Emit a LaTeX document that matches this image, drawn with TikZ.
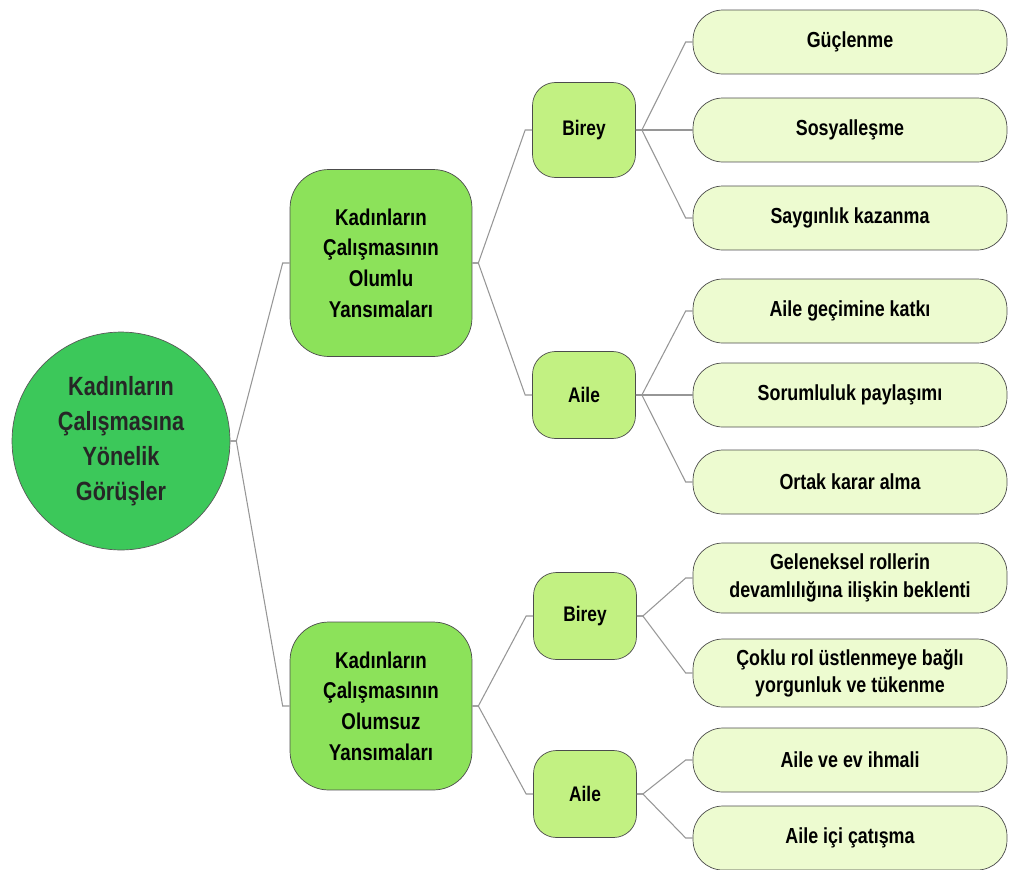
\documentclass[tikz,border=0pt]{standalone}
\usepackage{fontspec}
\setmainfont{Liberation Sans}[FakeStretch=0.82]
\usetikzlibrary{positioning,calc}

\definecolor{rootgreen}{RGB}{60,200,90}
\definecolor{midgreen}{RGB}{140,226,90}
\definecolor{subgreen}{RGB}{194,241,130}
\definecolor{leafgreen}{RGB}{237,251,208}
\definecolor{linkgray}{RGB}{150,150,150}

\tikzset{
  rootnode/.style={circle, draw=black!65, fill=rootgreen, minimum size=4.36cm, inner sep=0pt,
    align=center, text=black!85, font=\fontsize{15}{20}\selectfont\bfseries},
  midnode/.style={rectangle, rounded corners=22pt, draw=black!70, fill=midgreen,
    minimum width=3.64cm, align=center, font=\fontsize{13}{17.5}\selectfont\bfseries},
  subnode/.style={rectangle, rounded corners=13pt, draw=black!70, fill=subgreen,
    minimum width=2.06cm, minimum height=1.74cm, font=\fontsize{12}{15}\selectfont\bfseries},
  leafnode/.style={rectangle, rounded corners=17pt, draw=black!70, fill=leafgreen,
    minimum width=6.28cm, minimum height=1.28cm, align=center, font=\fontsize{12.4}{15.5}\selectfont\bfseries},
  link/.style={draw=linkgray, line width=0.6pt},
}
\newcommand{\branch}[2]{\draw[link] (#1.east) -- ++(6,0) -- ($(#2.west)+(-7,0)$) -- (#2.west);}

\begin{document}
\begin{tikzpicture}[x=0.02cm, y=-0.02cm]
    \useasboundingbox (0,0) rectangle (1020,869);

    % Root
    \node[rootnode] (root) at (121,441) {Kadınların\\Çalışmasına\\Yönelik\\Görüşler};

    % Second level
    \node[midnode, minimum height=3.74cm] (pos) at (381,263) {Kadınların\\Çalışmasının\\Olumlu\\Yansımaları};
    \node[midnode, minimum height=3.36cm] (neg) at (381,706) {Kadınların\\Çalışmasının\\Olumsuz\\Yansımaları};

    % Third level
    \node[subnode, minimum height=1.9cm] (posbirey) at (584,130) {Birey};
    \node[subnode] (posaile) at (584,395) {Aile};
    \node[subnode] (negbirey) at (585,616) {Birey};
    \node[subnode] (negaile) at (585,794) {Aile};

    % Leaves
    \node[leafnode] (guc) at (850,42) {Güçlenme};
    \node[leafnode] (sosyal) at (850,130) {Sosyalleşme};
    \node[leafnode] (saygi) at (850,218) {Saygınlık kazanma};
    \node[leafnode] (gecim) at (850,311) {Aile geçimine katkı};
    \node[leafnode] (sorum) at (850,395) {Sorumluluk paylaşımı};
    \node[leafnode] (karar) at (850,482) {Ortak karar alma};
    \node[leafnode, minimum height=1.4cm] (rol) at (850,578) {Geleneksel rollerin\\devamlılığına ilişkin beklenti};
    \node[leafnode, minimum height=1.36cm] (yorgun) at (850,673) {Çoklu rol üstlenmeye bağlı\\yorgunluk ve tükenme};
    \node[leafnode] (ihmal) at (850,760) {Aile ve ev ihmali};
    \node[leafnode] (catisma) at (850,838) {Aile içi çatışma};

    % Connectors
    \branch{root}{pos}
    \branch{root}{neg}
    \branch{pos}{posbirey}
    \branch{pos}{posaile}
    \branch{neg}{negbirey}
    \branch{neg}{negaile}
    \branch{posbirey}{guc}
    \branch{posbirey}{sosyal}
    \branch{posbirey}{saygi}
    \branch{posaile}{gecim}
    \branch{posaile}{sorum}
    \branch{posaile}{karar}
    \branch{negbirey}{rol}
    \branch{negbirey}{yorgun}
    \branch{negaile}{ihmal}
    \branch{negaile}{catisma}
\end{tikzpicture}
\end{document}
